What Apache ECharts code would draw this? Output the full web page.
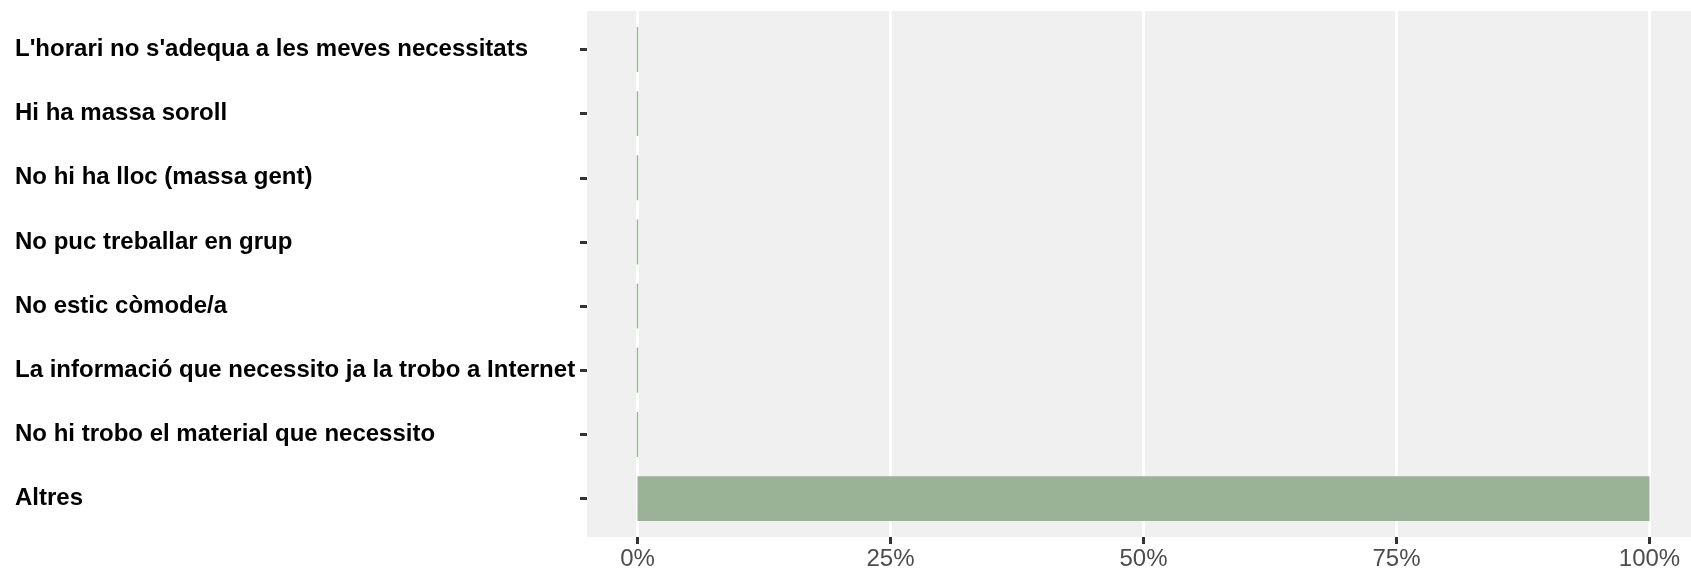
<!DOCTYPE html>
<html>
<head>
<meta charset="utf-8">
<script src="https://cdn.jsdelivr.net/npm/echarts@6/dist/echarts.min.js"></script>
<style>
html,body{margin:0;padding:0;background:#fff;}
#chart{width:1691px;height:571px;}
</style>
</head>
<body>
<div id="chart"></div>
<script>
const categories = [
  "L'horari no s'adequa a les meves necessitats",
  "Hi ha massa soroll",
  "No hi ha lloc (massa gent)",
  "No puc treballar en grup",
  "No estic còmode/a",
  "La informació que necessito ja la trobo a Internet",
  "No hi trobo el material que necessito",
  "Altres"
];
const values = [0, 0, 0, 0, 0, 0, 0, 100];
const xTicks = [0, 25, 50, 75, 100];

const FONT = '"Liberation Sans", Arial, Helvetica, sans-serif';
const chart = echarts.init(document.getElementById('chart'), null, {renderer: 'canvas'});
const barColor = '#9AB396';
const option = {
  animation: false,
  backgroundColor: '#ffffff',
  textStyle: {fontFamily: FONT},
  grid: [
    {left: 587, right: 0, top: 11, bottom: 33.9, show: true, backgroundColor: '#F0F0F0', borderWidth: 0, containLabel: false},
    {left: 637.5, right: 41.5, top: 11, bottom: 33.9, containLabel: false},
    {left: 587, right: 41.5, top: 17.4, bottom: 40.3, containLabel: false}
  ],
  xAxis: [
    {gridIndex: 0, type: 'value', min: 0, max: 1, show: false},
    {gridIndex: 1, type: 'value', min: xTicks[0], max: xTicks[xTicks.length - 1], interval: 25,
     axisLine: {show: false, onZero: false},
     axisTick: {show: true, length: 7, lineStyle: {color: '#333333', width: 3}},
     axisLabel: {show: true, margin: 10, fontSize: 24, color: '#4D4D4D', fontFamily: FONT,
                 formatter: v => v + '%'},
     splitLine: {show: true, lineStyle: {color: '#ffffff', width: 3}}},
    {gridIndex: 2, type: 'value', min: -4.99, max: 100, show: false}
  ],
  yAxis: [
    {gridIndex: 0, type: 'value', show: false},
    {gridIndex: 1, type: 'value', show: false},
    {gridIndex: 2, type: 'category', data: categories, inverse: true,
     axisLine: {show: false, onZero: false},
     axisTick: {show: true, length: 7, alignWithLabel: true, lineStyle: {color: '#333333', width: 3}},
     axisLabel: {show: true, margin: 572, align: 'left', fontSize: 24, fontWeight: 'bold', color: '#000000',
                 fontFamily: FONT, padding: [9, 0, 0, 0]},
     splitLine: {show: false}}
  ],
  series: [{
    type: 'bar',
    xAxisIndex: 2,
    yAxisIndex: 2,
    data: values,
    barWidth: '70%',
    itemStyle: {color: barColor, borderColor: barColor, borderWidth: 1.5},
    z: 5
  }]
};
chart.setOption(option);
</script>
</body>
</html>
